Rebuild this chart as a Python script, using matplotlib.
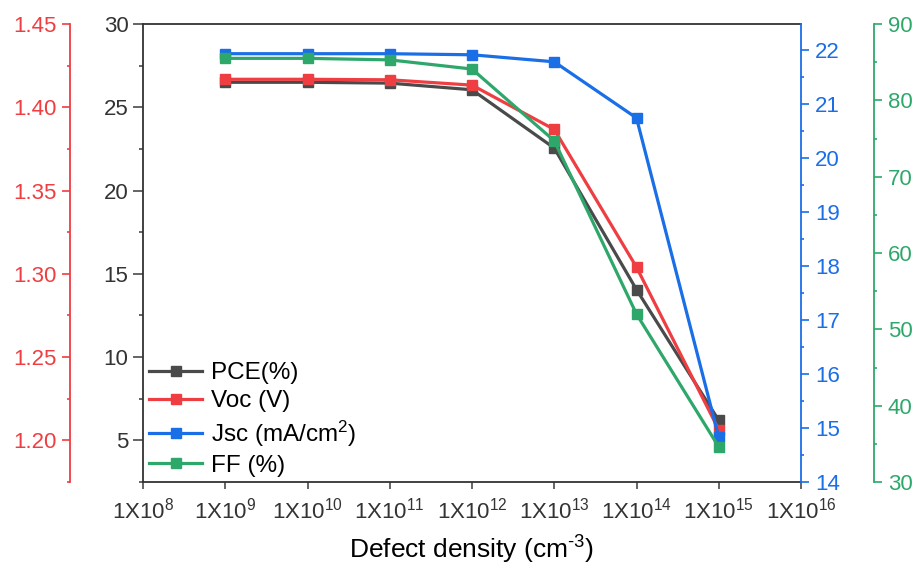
import numpy as np
import matplotlib
matplotlib.use("Agg")
from matplotlib import pyplot as plt
from matplotlib.ticker import MultipleLocator, FormatStrFormatter, FixedLocator, NullLocator

plt.rcParams['font.family'] = ['Liberation Sans', 'DejaVu Sans']
plt.rcParams['mathtext.default'] = 'regular'

# data
density = [1e9, 1e10, 1e11, 1e12, 1e13, 1e14, 1e15]
pce = [26.5, 26.5, 26.45, 26.05, 22.55, 14.05, 6.2]
voc = [1.4168, 1.4168, 1.4165, 1.4133, 1.3867, 1.304, 1.2064]
jsc = [21.93, 21.93, 21.93, 21.91, 21.78, 20.74, 14.83]
ff = [85.5, 85.5, 85.3, 84.1, 74.7, 52.0, 34.6]
decades = [8, 9, 10, 11, 12, 13, 14, 15, 16]

c_pce = '#4a4a4a'
c_voc = '#ef3e42'
c_jsc = '#1a6ee6'
c_ff = '#2ea86a'

fig = plt.figure(figsize=(9.18, 5.67), dpi=100)
ax = fig.add_axes([143 / 918, 85 / 567, (801 - 143) / 918, (482 - 24) / 567])
ax_v = ax.twinx()
ax_j = ax.twinx()
ax_f = ax.twinx()

lw, ms = 2.3, 7.5
l1, = ax.plot(density, pce, '-s', color=c_pce, lw=lw, ms=ms, label='PCE(%)')
l2, = ax_v.plot(density, voc, '-s', color=c_voc, lw=lw, ms=ms, label='Voc (V)')
l3, = ax_j.plot(density, jsc, '-s', color=c_jsc, lw=lw, ms=ms, label='Jsc (mA/cm$^2$)')
l4, = ax_f.plot(density, ff, '-s', color=c_ff, lw=lw, ms=ms, label='FF (%)')

ax.set_xscale('log')
ax.set_xlim(1e8, 1e16)
ax.xaxis.set_major_locator(FixedLocator([10.0 ** d for d in decades]))
ax.xaxis.set_minor_locator(NullLocator())
ax.set_xticklabels(['1X10$^{%d}$' % d for d in decades])
ax.set_xlabel('Defect density (cm$^{\u2010 3}$)', fontsize=19, labelpad=8)

# host (PCE) axis
ax.set_ylim(2.5, 30)
ax.yaxis.set_major_locator(MultipleLocator(5))
ax.yaxis.set_minor_locator(MultipleLocator(2.5))
ax.spines['right'].set_visible(False)
ax.tick_params(axis='both', which='both', direction='out', top=False, right=False,
               width=1.2, color=c_pce, labelcolor='#333333')
ax.tick_params(axis='y', which='major', length=7, labelsize=16, pad=3.5)
ax.tick_params(axis='y', which='minor', length=3)
ax.tick_params(axis='x', length=5, pad=6, labelsize=16)
for s in ['left', 'bottom', 'top']:
    ax.spines[s].set_linewidth(1.3)
    ax.spines[s].set_color('#333333')


def style_twin(a, side, offset, color, lo, hi, major, minor, fmt=None):
    for s in a.spines.values():
        s.set_visible(False)
    sp = a.spines[side]
    sp.set_visible(True)
    sp.set_color(color)
    sp.set_linewidth(1.3)
    sp.set_position(('outward', offset))
    a.yaxis.set_ticks_position(side)
    a.set_ylim(lo, hi)
    a.yaxis.set_major_locator(MultipleLocator(major))
    a.yaxis.set_minor_locator(MultipleLocator(minor))
    if fmt:
        a.yaxis.set_major_formatter(FormatStrFormatter(fmt))
    a.tick_params(axis='y', which='both', direction='out', color=color, labelcolor=color, width=1.2)
    a.tick_params(axis='y', which='major', length=5.5, labelsize=16, pad=4.5)
    a.tick_params(axis='y', which='minor', length=2.5)


# outward offsets are in points: ~73 px
style_twin(ax_v, 'left', 52.5, c_voc, 1.175, 1.45, 0.05, 0.025, '%.2f')
style_twin(ax_j, 'right', 0, c_jsc, 14, 22.48, 1, 0.5)
style_twin(ax_f, 'right', 52.5, c_ff, 30, 90, 10, 5)

ax_f.legend(handles=[l1, l2, l3, l4], loc='lower left', bbox_to_anchor=(-0.006, -0.01),
            frameon=False, fontsize=17.5, handlelength=2.2, handletextpad=0.35,
            labelspacing=0.25, borderaxespad=0.0)

fig.savefig('out.png', dpi=100)
